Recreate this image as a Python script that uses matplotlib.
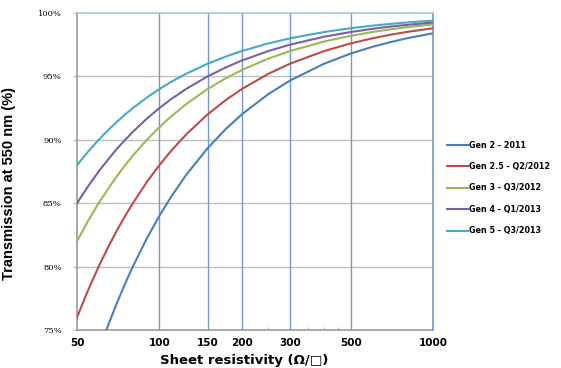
import numpy as np
import matplotlib.pyplot as plt

# sheet resistivity (ohm/sq) where the curves were read
rs = [50, 55, 60, 65, 70, 75, 80, 90, 100, 110, 125, 150, 175, 200,
      250, 300, 400, 500, 600, 700, 800, 1000]
rs_gen2 = [64, 65, 70, 75, 80, 90, 100, 110, 125, 150, 175, 200,
           250, 300, 400, 500, 600, 700, 800, 1000]

# transmission at 550 nm (%)
gen2 = [75.0, 75.38, 77.14, 78.67, 80.0, 82.22, 84.0, 85.45, 87.2, 89.33,
        90.86, 92.0, 93.6, 94.67, 96.0, 96.8, 97.33, 97.71, 98.0, 98.4]
gen25 = [76.0, 78.18, 80.0, 81.54, 82.86, 84.0, 85.0, 86.67, 88.0, 89.09,
         90.4, 92.0, 93.14, 94.0, 95.2, 96.0, 97.0, 97.6, 98.0, 98.29, 98.5, 98.8]
gen3 = [82.0, 83.64, 85.0, 86.15, 87.14, 88.0, 88.75, 90.0, 91.0, 91.82,
        92.8, 94.0, 94.86, 95.5, 96.4, 97.0, 97.75, 98.2, 98.5, 98.71, 98.88, 99.1]
gen4 = [85.0, 86.36, 87.5, 88.46, 89.29, 90.0, 90.63, 91.67, 92.5, 93.18,
        94.0, 95.0, 95.71, 96.25, 97.0, 97.5, 98.13, 98.5, 98.75, 98.93, 99.06, 99.25]
gen5 = [88.0, 89.09, 90.0, 90.77, 91.43, 92.0, 92.5, 93.33, 94.0, 94.55,
        95.2, 96.0, 96.57, 97.0, 97.6, 98.0, 98.5, 98.8, 99.0, 99.14, 99.25, 99.4]

labels = ["Gen 2 - 2011", "Gen 2.5 - Q2/2012", "Gen 3 - Q3/2012",
          "Gen 4 - Q1/2013", "Gen 5 - Q3/2013"]
colors = ["#4a7ebb", "#be4b48", "#98b954", "#7d60a0", "#46aac5"]

xticks = [50, 100, 150, 200, 300, 500, 1000]
vgrid = [100, 150, 200, 300, 500]
minor = [250, 350, 400, 450]
yticks = [75, 80, 85, 90, 95, 100]

fig = plt.figure(figsize=(5.61, 3.68), dpi=100)
ax = fig.add_axes([77/561, 1-330/368, (433-77)/561, (330-13)/368])

for y in yticks[1:-1]:
    ax.axhline(y, color="#bfbfbf", lw=1.0, zorder=1)
for x in vgrid:
    ax.axvline(x, color="#7397c9", lw=1.0, zorder=1)

series = [(rs_gen2, gen2), (rs, gen25), (rs, gen3), (rs, gen4), (rs, gen5)]
for (xs, ys), lab, c in zip(series, labels, colors):
    ax.plot(xs, ys, color=c, lw=1.5, label=lab, zorder=3)

ax.set_xscale("log")
ax.set_xlim(50, 1000)
ax.set_ylim(75, 100)
ax.set_xticks(xticks)
ax.set_xticklabels([str(v) for v in xticks], fontsize=7.5, fontweight="bold")
ax.set_xticks(minor, minor=True)
ax.set_xticklabels([], minor=True)
ax.tick_params(axis="x", which="major", length=0, pad=6)
ax.tick_params(axis="x", which="minor", length=2, direction="in", color="#999999")
ax.set_yticks(yticks)
ax.set_yticklabels([f"{v}%" for v in yticks], fontsize=6, family="DejaVu Serif")
ax.tick_params(axis="y", length=3, color="#bfbfbf", pad=8)

ax.spines["left"].set_color("#999999")
ax.spines["bottom"].set_color("#999999")
ax.spines["top"].set_color("#a9c4e4")
ax.spines["right"].set_color("#7397c9")
for s in ax.spines.values():
    s.set_linewidth(1.2)

ax.set_ylabel("Transmission at 550 nm (%)", fontsize=10.5, fontweight="bold",
              family="Liberation Sans")
ax.yaxis.set_label_coords((16 - 77) / 356, (330 - 183) / 317)
ax.set_xlabel("Sheet resistivity (\u03a9/\u25a1)", fontsize=9.5, fontweight="bold")
ax.xaxis.set_label_coords((244 - 77) / 356, -(354 - 330) / 317)
ax.xaxis.label.set_va("top")

leg = ax.legend(loc="center left", bbox_to_anchor=(1.02, 0.448), frameon=False,
                prop={"size": 5.8, "weight": "bold"}, labelspacing=1.55,
                handlelength=2.6, handletextpad=0.1)
for line in leg.get_lines():
    line.set_linewidth(1.5)

fig.savefig("out.png", dpi=100, facecolor="white")
